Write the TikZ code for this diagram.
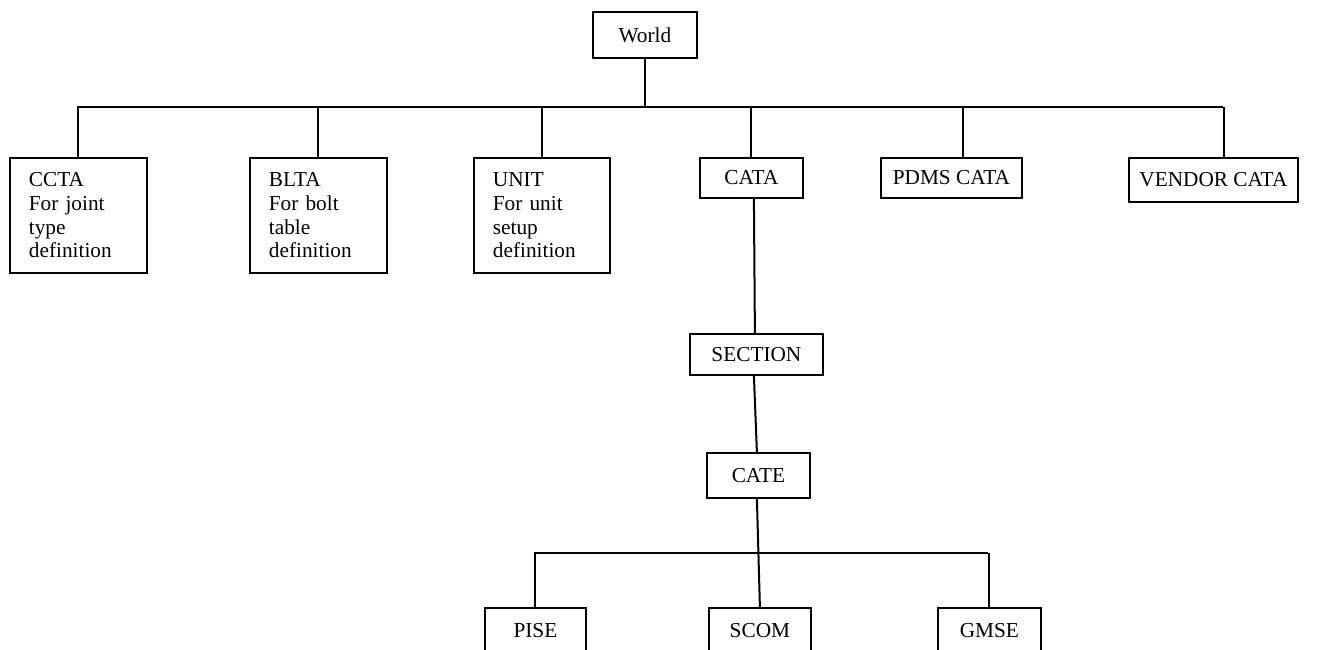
\documentclass[tikz,border=0pt]{standalone}
\usepackage{fontspec}
\setmainfont{Liberation Serif}
\begin{document}
\begin{tikzpicture}[x=1pt,y=-1pt,
  ln/.style={line width=2pt,black},
  bx/.style={draw,line width=1.8pt,anchor=north west,inner sep=0pt,
    font=\fontsize{21.3}{23.7}\selectfont,align=center},
  mbx/.style={draw,line width=1.8pt,anchor=north west,inner xsep=19pt,inner ysep=0pt,
    font=\fontsize{21.3}{23.7}\selectfont,align=left}]
\useasboundingbox (0,0) rectangle (1322,650);
\clip (0,0) rectangle (1322,650);
% top
\node[bx,minimum width=104pt,minimum height=46pt] (world) at (592,11) {World};
% level 1
\node[mbx,text width=99pt,minimum height=115pt] (ccta) at (9,157) {CCTA\\For joint\\type\\definition};
\node[mbx,text width=99pt,minimum height=115pt] (blta) at (249,157) {BLTA\\For bolt\\table\\definition};
\node[mbx,text width=98pt,minimum height=115pt] (unit) at (473,157) {UNIT\\For unit\\setup\\definition};
\node[bx,minimum width=103pt,minimum height=40pt] (cata) at (699,157) {CATA};
\node[bx,minimum width=141pt,minimum height=40pt] (pdms) at (880,157) {PDMS CATA};
\node[bx,minimum width=169pt,minimum height=44pt] (vendor) at (1128,157) {VENDOR CATA};
% chain
\node[bx,minimum width=133pt,minimum height=41pt] (section) at (689,333) {SECTION};
\node[bx,minimum width=103pt,minimum height=45pt] (cate) at (706,452) {CATE};
% bottom
\node[bx,minimum width=101pt,minimum height=45pt] (pise) at (484,607) {PISE};
\node[bx,minimum width=102pt,minimum height=45pt] (scom) at (708,607) {SCOM};
\node[bx,minimum width=103pt,minimum height=45pt] (gmse) at (937,607) {GMSE};
% bars
\coordinate (barL) at (77,107);
\coordinate (barR) at (1223,107);
\coordinate (bar2L) at (534,553);
\coordinate (bar2R) at (988,553);
\draw[ln] (barL) -- (barR);
\draw[ln] (world.south) -- (world.south |- barL);
\draw[ln] (ccta.north) -- (ccta.north |- barL);
\draw[ln] (blta.north) -- (blta.north |- barL);
\draw[ln] (unit.north) -- (unit.north |- barL);
\draw[ln] (cata.north) -- (cata.north |- barL);
\draw[ln] ([xshift=11.5pt]pdms.north) -- ([xshift=11.5pt]pdms.north |- barL);
\draw[ln] ([xshift=10.5pt]vendor.north) -- ([xshift=10.5pt]vendor.north |- barL);
\draw[ln] ([xshift=2.5pt]cata.south) -- ([xshift=-1.5pt]section.north);
\draw[ln] ([xshift=-2.5pt]section.south) -- ([xshift=-1.5pt]cate.north);
\draw[ln] ([xshift=-1.5pt]cate.south) -- (scom.north);
\draw[ln] (bar2L) -- (bar2R);
\draw[ln] (pise.north) -- (pise.north |- bar2L);
\draw[ln] (gmse.north) -- (gmse.north |- bar2L);
\end{tikzpicture}
\end{document}
